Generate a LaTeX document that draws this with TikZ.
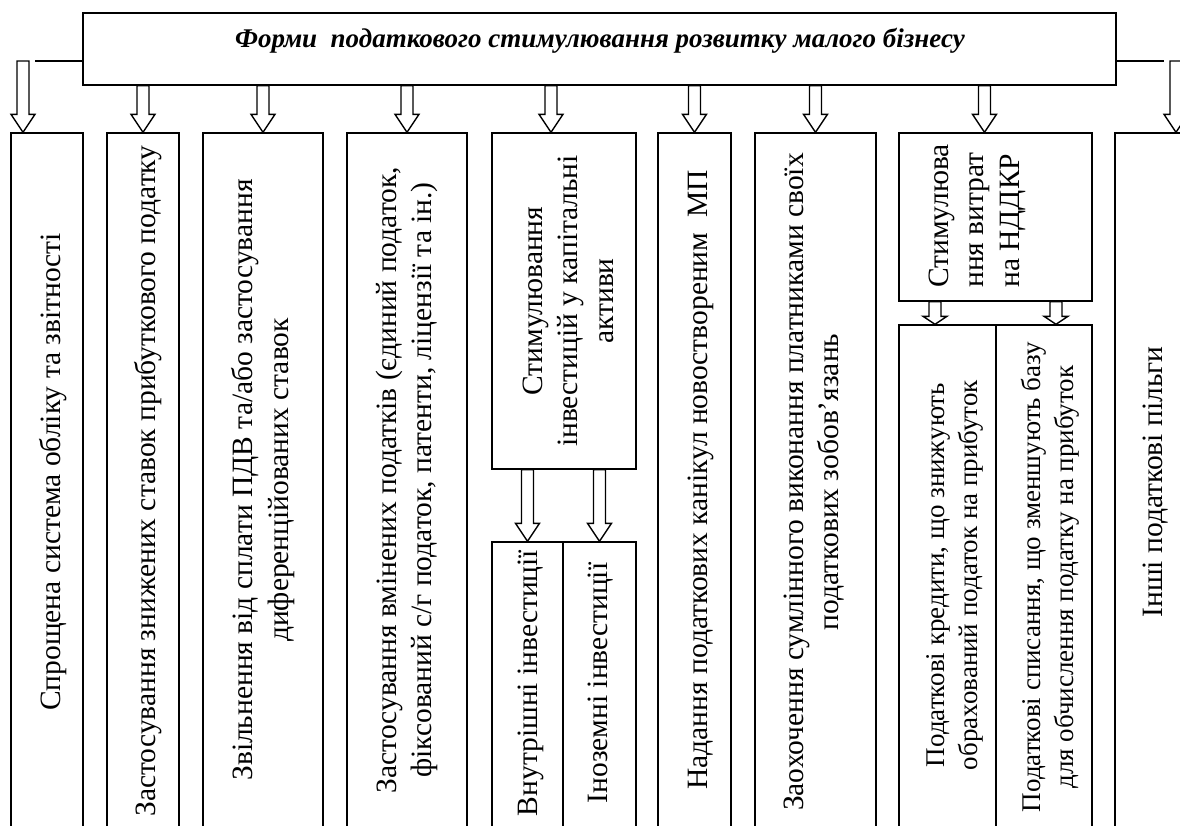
\documentclass[tikz,border=0pt]{standalone}
\usepackage{fontspec}
\setmainfont{Liberation Serif}
\usetikzlibrary{calc}

% hollow block arrow: [head length]{start}{tip}
\newcommand{\blockarr}[3][18pt]{%
  \draw[fill=white] let \p1=#2, \p2=#3 in
    (\x1-6pt,\y1) -- (\x1-6pt,\y2+#1) -- (\x1-12pt,\y2+#1) -- (\x1,\y2)
    -- (\x1+12pt,\y2+#1) -- (\x1+6pt,\y2+#1) -- (\x1+6pt,\y1) -- cycle;}

\begin{document}
\begin{tikzpicture}[x=1pt, y=-1pt, line width=1.4pt,
    box/.style={draw, inner sep=0pt},
    vtext/.style={rotate=90, align=center, inner sep=0pt, font=\fontsize{29.5}{35.5}\selectfont},
    stext/.style={vtext, font=\fontsize{27}{33}\selectfont}]
    \useasboundingbox (0,0) rectangle (1180,825);
    \clip (0,0) rectangle (1180,825);

    \begin{scope}[every node/.style={box}]
        \node[minimum width=1033pt, minimum height=72pt] (top) at (599.5,49) {};
        \node[minimum width=72pt, minimum height=695pt] (b1) at (47,480.5) {};
        \node[minimum width=72pt, minimum height=695pt] (b2) at (143,480.5) {};
        \node[minimum width=120pt, minimum height=695pt] (b3) at (263,480.5) {};
        \node[minimum width=120pt, minimum height=695pt] (b4) at (407,480.5) {};
        \node[minimum width=144pt, minimum height=336pt] (b5) at (564,301) {};
        \node[minimum width=71pt, minimum height=286pt] (b5a) at (527.5,685) {};
        \node[minimum width=73pt, minimum height=286pt] (b5b) at (599.5,685) {};
        \node[minimum width=73pt, minimum height=695pt] (b6) at (694.5,480.5) {};
        \node[minimum width=121pt, minimum height=695pt] (b7) at (815.5,480.5) {};
        \node[minimum width=193pt, minimum height=168pt] (b8) at (995.5,217) {};
        \node[minimum width=97pt, minimum height=503pt] (b8a) at (947.5,576.5) {};
        \node[minimum width=96pt, minimum height=503pt] (b8b) at (1044,576.5) {};
        \node[minimum width=85pt, minimum height=695pt] (b9) at (1157.5,480.5) {};
    \end{scope}

    \node[font=\bfseries\itshape\fontsize{27}{32}\selectfont, inner sep=0pt] (title) at (600,41)
        {Форми\ \ податкового стимулювання розвитку малого бізнесу};

    \node[vtext] (t1) at (53,472) {Спрощена система обліку та звітності};
    \node[vtext] (t2) at (148,481) {Застосування знижених ставок прибуткового податку};
    \node[vtext] (t3) at (263,480) {Звільнення від сплати ПДВ та/або застосування\\ диференційованих ставок};
    \node[vtext] (t4) at (407,480) {Застосування вмінених податків (єдиний податок,\\ фіксований с/г податок, патенти, ліцензії та ін.)};
    \node[vtext] (t5) at (568,301) {Стимулювання\\ інвестицій у капітальні\\ активи};
    \node[vtext] (t5a) at (531,683) {Внутрішні інвестиції};
    \node[vtext] (t5b) at (601,683) {Іноземні інвестиції};
    \node[vtext] (t6) at (701,480) {Надання податкових канікул новоствореним\ \ МП};
    \node[vtext] (t7) at (814,482) {Заохочення сумлінного виконання платниками своїх\\ податкових зобов’язань};
    \node[vtext, align=left] (t8) at (977,216) {Стимулюва\\ ння витрат\\ на НДДКР};
    \node[stext] (t8a) at (955,575) {Податкові кредити, що знижують\\ обрахований податок на прибуток};
    \node[stext] (t8b) at (1050,577) {Податкові списання, що зменшують базу\\ для обчислення податку на прибуток};
    \node[vtext] (t9) at (1156,482) {Інші податкові пільги};

    % side branches
    \coordinate (ll) at (35,61);
    \coordinate (la) at (23,61);
    \coordinate (rl) at (1164,61);
    \coordinate (ra) at (1176,61);
    \draw (top.west |- ll) -- (ll);
    \draw (top.east |- rl) -- (rl);
    \blockarr{(la)}{(la |- b1.north)}
    \blockarr{(ra)}{(ra |- b9.north)}

    % arrows from the title box
    \foreach \b in {b2,b3,b4,b6,b7}
        \blockarr{(\b.north |- top.south)}{(\b.north)};
    \coordinate (a5) at ([xshift=-13pt]b5.north);
    \coordinate (a8) at ([xshift=-11pt]b8.north);
    \blockarr{(a5 |- top.south)}{(a5)}
    \blockarr{(a8 |- top.south)}{(a8)}

    % second level
    \blockarr{(b5a.north |- b5.south)}{(b5a.north)}
    \blockarr{(b5b.north |- b5.south)}{(b5b.north)}
    \coordinate (s8a) at ([xshift=-12.5pt]b8a.north);
    \coordinate (s8b) at ([xshift=12pt]b8b.north);
    \blockarr[8pt]{(s8a |- b8.south)}{(s8a)}
    \blockarr[8pt]{(s8b |- b8.south)}{(s8b)}
\end{tikzpicture}
\end{document}
